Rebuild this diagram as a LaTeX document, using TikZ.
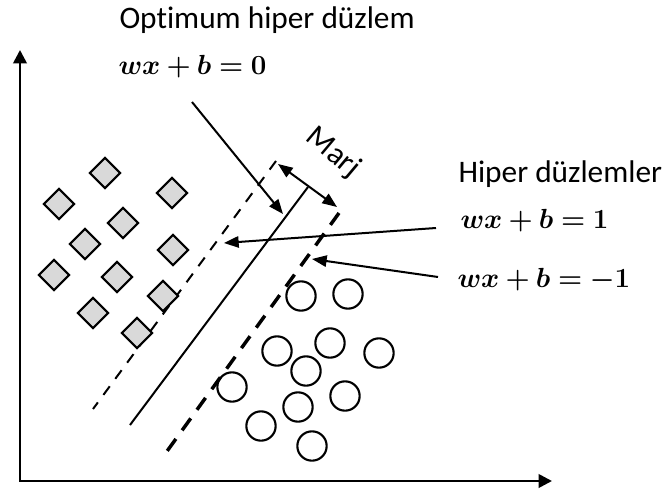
\documentclass[tikz,border=0pt]{standalone}
\usepackage{amsmath}
\usepackage{amssymb}
\usepackage{bm}
\usepackage{fontspec}
\newfontfamily\labelfont[Ligatures=NoCommon]{Carlito}
\usetikzlibrary{arrows.meta}
\usetikzlibrary{shapes.geometric}
\definecolor{pointgray}{RGB}{217,217,217}
\tikzset{every picture/.style={line width=0.75pt}}
\tikzset{
  axisline/.style={line width=2pt, {Triangle[length=10pt,width=10pt]}-{Triangle[length=10pt,width=10pt]}},
  pointer/.style={line width=1.5pt, -{Triangle[length=11pt,width=8.5pt]}},
  margin/.style={line width=1.5pt, {Triangle[length=11pt,width=8.5pt]}-{Triangle[length=11pt,width=8.5pt]}},
  optline/.style={line width=1.5pt},
  plusline/.style={line width=1.5pt, dash pattern=on 8pt off 7pt},
  minusline/.style={line width=2.6pt, dash pattern=on 11pt off 8pt},
  classa/.style={diamond, draw, fill=pointgray, line width=1.6pt, minimum width=23.5pt, minimum height=23.5pt, inner sep=0pt},
  classb/.style={circle, draw, line width=1.6pt, minimum size=22pt, inner sep=0pt},
  titletext/.style={inner sep=0pt, font=\labelfont\fontsize{23.5}{28}\selectfont},
  eqtext/.style={inner sep=0pt, font=\fontsize{20.5}{24}\selectfont}
}

\begin{document}
\begin{tikzpicture}[x=0.75pt,y=0.75pt,yscale=-1,xscale=1]
\path[use as bounding box] (0,0) rectangle (667,489);

%Axes
\coordinate (yend) at (20,50);
\coordinate (origin) at (20,481);
\coordinate (xend) at (552,481);
\draw [axisline] (yend) -- (origin) -- (xend);

%Hyperplanes
\coordinate (plusA) at (93,409);
\coordinate (plusB) at (276,161);
\coordinate (optA) at (130,425);
\coordinate (optB) at (308,187);
\coordinate (minusA) at (165,454);
\coordinate (minusB) at (339,213);
\draw [plusline] (plusB) -- (plusA);
\draw [optline] (optB) -- (optA);
\draw [minusline] (minusB) -- (minusA);

%Margin arrow
\coordinate (margL) at (278,164);
\coordinate (margR) at (337,207);
\draw [margin] (margL) -- (margR);

%Class A points
\node [classa] (a1) at (105,173) {};
\node [classa] (a2) at (59,204) {};
\node [classa] (a3) at (172,193) {};
\node [classa] (a4) at (123,223) {};
\node [classa] (a5) at (85,244) {};
\node [classa] (a6) at (173,250) {};
\node [classa] (a7) at (54,275) {};
\node [classa] (a8) at (117,277) {};
\node [classa] (a9) at (163,296) {};
\node [classa] (a10) at (93,313) {};
\node [classa] (a11) at (137,333) {};

%Class B points
\node [classb] (b1) at (301,296) {};
\node [classb] (b2) at (348,294) {};
\node [classb] (b3) at (277,351) {};
\node [classb] (b4) at (330,343) {};
\node [classb] (b5) at (379,353) {};
\node [classb] (b6) at (306,371) {};
\node [classb] (b7) at (232,387) {};
\node [classb] (b8) at (298,407) {};
\node [classb] (b9) at (345,396) {};
\node [classb] (b10) at (261,426) {};
\node [classb] (b11) at (312,446) {};

% Text Node
\node [titletext, anchor=base west] (opttitle) at (119,28) {Optimum hiper düzlem};
% Text Node
\node [eqtext, anchor=base west] (opteq) at (118,74) {$\boldsymbol{wx+b=0}$};
% Text Node
\node [titletext, anchor=base west] (hipertitle) at (458,182) {Hiper düzlemler};
% Text Node
\node [eqtext, anchor=base west] (pluseq) at (460,228) {$\boldsymbol{wx+b=1}$};
% Text Node
\node [eqtext, anchor=base west] (minuseq) at (457,287) {$\boldsymbol{wx+b=-1}$};
% Text Node
\node [titletext, rotate=-40] (margtext) at (333,153) {Marj};

%Pointers
\coordinate (opttail) at (192,102);
\coordinate (opttip) at (283,214);
\coordinate (plustail) at (436,228);
\coordinate (plustip) at (224,243);
\coordinate (minustail) at (438,277);
\coordinate (minustip) at (312,259);
\draw [pointer] (opttail) -- (opttip);
\draw [pointer] (plustail) -- (plustip);
\draw [pointer] (minustail) -- (minustip);

\end{tikzpicture}
\end{document}
